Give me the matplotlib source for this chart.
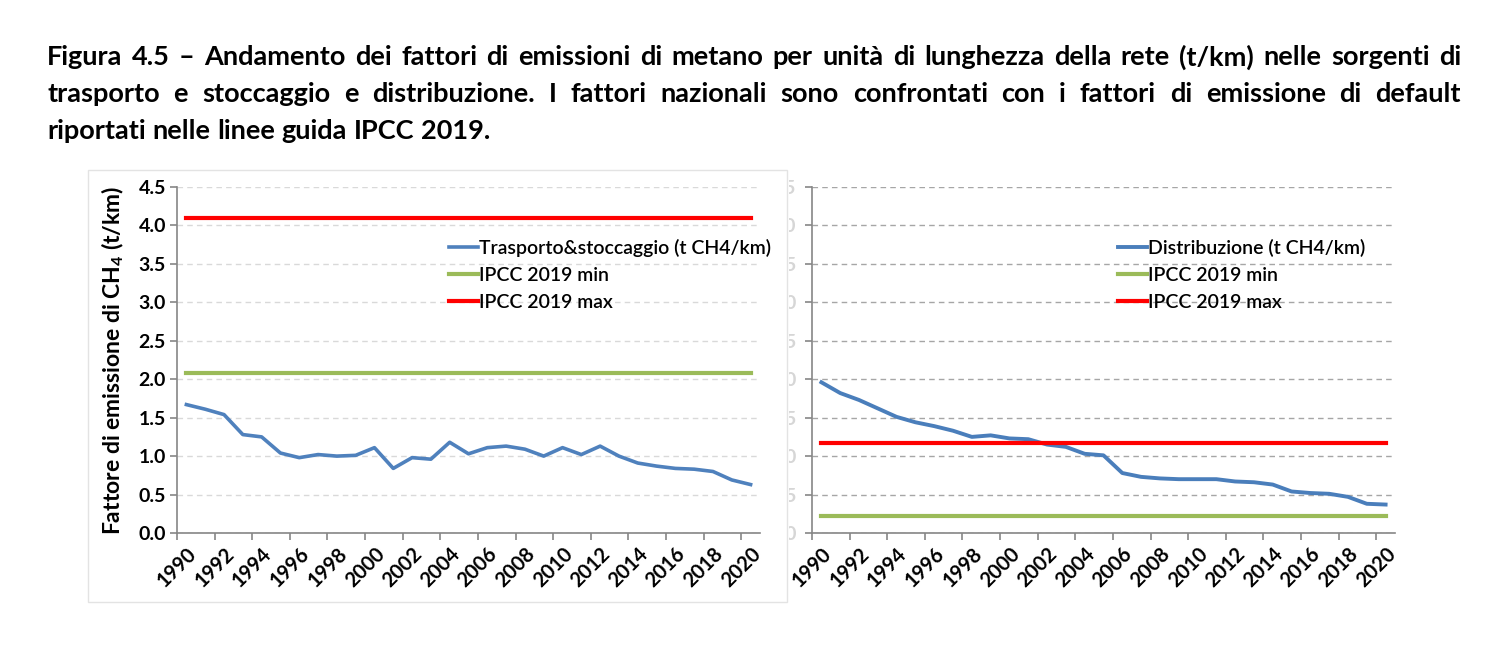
import matplotlib
matplotlib.use('Agg')
import matplotlib.pyplot as plt
from matplotlib.patches import Rectangle
from matplotlib.transforms import Bbox, TransformedBbox
import numpy as np

plt.rcParams['font.family'] = ['Lato', 'DejaVu Sans']
plt.rcParams['mathtext.fontset'] = 'custom'
plt.rcParams['mathtext.rm'] = 'Lato'
plt.rcParams['mathtext.bf'] = 'Lato:bold'

years = list(range(1990, 2021))

trasporto = [1.67, 1.61, 1.54, 1.28, 1.25, 1.04, 0.98, 1.02, 1.00, 1.01,
             1.11, 0.84, 0.98, 0.96, 1.18, 1.03, 1.11, 1.13, 1.09, 1.00,
             1.11, 1.02, 1.13, 1.00, 0.91, 0.87, 0.84, 0.83, 0.80, 0.69,
             0.63]
trasp_min, trasp_max = 2.08, 4.10

distribuzione = [1.96, 1.82, 1.73, 1.62, 1.51, 1.44, 1.39, 1.33, 1.25, 1.27,
                 1.23, 1.22, 1.15, 1.12, 1.03, 1.01, 0.78, 0.73, 0.71, 0.70,
                 0.70, 0.70, 0.67, 0.66, 0.63, 0.54, 0.52, 0.51, 0.47, 0.38,
                 0.37]
distr_min, distr_max = 0.226, 1.17

y_ticks = [0.0, 0.5, 1.0, 1.5, 2.0, 2.5, 3.0, 3.5, 4.0, 4.5]

title_lines = [
    "Figura 4.5 \u2013 Andamento dei fattori di emissioni di metano per unit\u00e0 di lunghezza della rete (t/km) nelle sorgenti di",
    "trasporto e stoccaggio e distribuzione. I fattori nazionali sono confrontati con i fattori di emissione di default",
    "riportati nelle linee guida IPCC 2019.",
]

W, H = 1500, 645
fig = plt.figure(figsize=(15, 6.45), dpi=100)

BLUE = '#4f81bd'
GREEN = '#9bbb59'
RED = '#ff0000'

# panel border around left chart
fig.patches.append(Rectangle((88 / W, 1 - 602 / H), (787 - 88) / W, (602 - 170) / H,
                             transform=fig.transFigure, fill=False,
                             edgecolor='#e3e3e3', lw=1.0))


def style_axes(ax, grid_color):
    x = np.arange(len(years))
    ax.set_xlim(-0.5, len(years) - 0.5)
    ax.set_ylim(0, 4.5)
    ax.set_yticks(y_ticks)
    ax.set_yticklabels([f'{v:.1f}' for v in y_ticks], fontsize=14, fontweight='bold')
    ax.set_xticks(x[::2])
    ax.set_xticklabels([str(y) for y in years[::2]], rotation=45, ha='right',
                       rotation_mode='anchor', fontsize=14.5, fontweight='bold')
    ax.set_xticks(np.arange(-0.5, len(years) - 1, 2), minor=True)
    ax.tick_params(axis='x', which='major', length=0, pad=8)
    ax.tick_params(axis='x', which='minor', length=5, color='#868686', width=1.2)
    ax.tick_params(axis='y', length=5, color='#868686', width=1.2, pad=3)
    for s in ['top', 'right']:
        ax.spines[s].set_visible(False)
    for s in ['left', 'bottom']:
        ax.spines[s].set_color('#868686')
        ax.spines[s].set_linewidth(1.2)
    ax.yaxis.grid(True, linestyle=(0, (4, 3)), color=grid_color, lw=1.0)
    ax.set_axisbelow(True)
    return x


leg_kw = dict(loc='upper left', frameon=False, handlelength=1.5,
              handletextpad=0.05, labelspacing=0.5, borderaxespad=0,
              prop={'size': 14, 'weight': 'semibold'})

ax1 = fig.add_axes([177 / W, 1 - 533 / H, (760 - 177) / W, (533 - 187) / H])
x = style_axes(ax1, '#d9d9d9')
ax1.plot(x, trasporto, color=BLUE, lw=2.6, label='Trasporto&stoccaggio (t CH4/km)')
ax1.plot([x[0], x[-1]], [trasp_min] * 2, color=GREEN, lw=3, label='IPCC 2019 min')
ax1.plot([x[0], x[-1]], [trasp_max] * 2, color=RED, lw=3, label='IPCC 2019 max')
ax1.legend(bbox_to_anchor=(0.453, 0.872), **leg_kw)
ax1.set_ylabel('Fattore di emissione di CH$_\\mathbf{4}$ (t/km)', fontsize=16.5,
               fontweight='bold', labelpad=9)

ax2 = fig.add_axes([812 / W, 1 - 533 / H, (1395 - 812) / W, (533 - 187) / H])
x = style_axes(ax2, '#a6a6a6')
ax2.plot(x, distribuzione, color='#4a7ebb', lw=2.8, label='Distribuzione (t CH4/km)')
ax2.plot([x[0], x[-1]], [distr_min] * 2, color=GREEN, lw=3, label='IPCC 2019 min')
ax2.plot([x[0], x[-1]], [distr_max] * 2, color=RED, lw=3, label='IPCC 2019 max')
ax2.legend(bbox_to_anchor=(0.511, 0.872), **leg_kw)
# faint, cropped y labels of the right chart
clip = TransformedBbox(Bbox([[789 / W, 0], [1, 1]]), fig.transFigure)
for tick in ax2.yaxis.get_major_ticks():
    tick.label1.set_color('#d6d6d6')
    tick.label1.set_clip_box(clip)
    tick.label1.set_clip_on(True)
ax2.tick_params(axis='y', pad=6)

# justified title
renderer = fig.canvas.get_renderer()
TFS = 19.5
x0, x1 = 47, 1461
ys = [57, 94, 131]
for i, (line, yy) in enumerate(zip(title_lines, ys)):
    words = line.split(' ')
    texts = [fig.text(0, 1 - yy / H, w, fontsize=TFS, fontweight='bold',
                      va='center', ha='left') for w in words]
    widths = [t.get_window_extent(renderer).width for t in texts]
    if i < len(title_lines) - 1:
        gap = (x1 - x0 - sum(widths)) / (len(words) - 1)
    else:
        gap = 0.25 * TFS * 100 / 72
    xx = x0
    for t, w in zip(texts, widths):
        t.set_x(xx / W)
        xx += w + gap

fig.savefig('out.png', dpi=100)
